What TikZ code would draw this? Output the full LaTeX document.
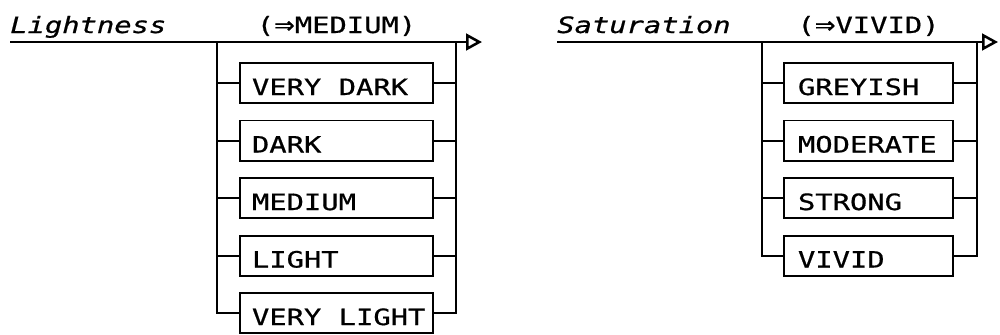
\documentclass[tikz,border=0pt]{standalone}
\usepackage{fontspec}
\newfontfamily\railfont[FakeStretch=1.28, FakeBold=0.7]{DejaVu Sans Mono}
\newfontfamily\railarrow[FakeStretch=1.1, FakeBold=0.7]{DejaVu Sans}
\newcommand\railsp{\nobreak\hspace{0.435cm}}
\usetikzlibrary{arrows.meta, positioning}

\begin{document}
\begin{tikzpicture}[
    x=0.025cm, y=-0.025cm,
    node distance=0.4375cm,
    every node/.style={font=\railfont\fontsize{16pt}{18pt}\selectfont},
    heading/.style={anchor=base west, inner sep=0pt, font=\railfont\itshape\fontsize{16pt}{18pt}\selectfont},
    defval/.style={anchor=base, inner sep=0pt},
    choice/.style={rectangle, draw, line width=1.4pt, outer sep=0pt, minimum height=1cm, align=left, text height=0.6cm, text depth=0pt},
    lbox/.style={choice, text width=4.225cm, inner xsep=0.3cm},
    rbox/.style={choice, text width=3.525cm, inner xsep=0.35cm},
    rail/.style={line width=1.4pt},
    arrow/.style={rail, -{Triangle[open, length=0.4cm, width=0.42cm, line width=1.8pt]}},
]
\useasboundingbox (0,0) rectangle (1000,335);

% Lightness
\coordinate (lstart) at (10,42);
\coordinate (lsplit) at (217,42);
\coordinate (ljoin) at (456,42);
\coordinate (lend) at (482,42);

\node[heading] (ltitle) at (10,33) {Lightness};
\node[defval] (ldef) at (336.5,33) {({\railarrow ⇒}MEDIUM)};

\node[lbox] (vdark) at (336.5,83) {VERY\railsp DARK};
\node[lbox, below=of vdark] (dark) {DARK};
\node[lbox, below=of dark] (medium) {MEDIUM};
\node[lbox, below=of medium] (light) {LIGHT};
\node[lbox, below=of light] (vlight) {VERY\railsp LIGHT};

\draw[arrow] (lstart) -- (lend);
\draw[rail] (lsplit) |- (vlight.west);
\draw[rail] (ljoin) |- (vlight.east);
\draw[rail] (lsplit |- vdark.west) -- (vdark.west);
\draw[rail] (lsplit |- dark.west) -- (dark.west);
\draw[rail] (lsplit |- medium.west) -- (medium.west);
\draw[rail] (lsplit |- light.west) -- (light.west);
\draw[rail] (vdark.east) -- (ljoin |- vdark.east);
\draw[rail] (dark.east) -- (ljoin |- dark.east);
\draw[rail] (medium.east) -- (ljoin |- medium.east);
\draw[rail] (light.east) -- (ljoin |- light.east);

% Saturation
\coordinate (sstart) at (557,42);
\coordinate (ssplit) at (762,42);
\coordinate (sjoin) at (977,42);
\coordinate (send) at (998,42);

\node[heading] (stitle) at (557,33) {Saturation};
\node[defval] (sdef) at (868.5,33) {({\railarrow ⇒}VIVID)};

\node[rbox] (greyish) at (868.5,83) {GREYISH};
\node[rbox, below=of greyish] (moderate) {MODERATE};
\node[rbox, below=of moderate] (strong) {STRONG};
\node[rbox, below=of strong] (vivid) {VIVID};

\draw[arrow] (sstart) -- (send);
\draw[rail] (ssplit) |- (vivid.west);
\draw[rail] (sjoin) |- (vivid.east);
\draw[rail] (ssplit |- greyish.west) -- (greyish.west);
\draw[rail] (ssplit |- moderate.west) -- (moderate.west);
\draw[rail] (ssplit |- strong.west) -- (strong.west);
\draw[rail] (greyish.east) -- (sjoin |- greyish.east);
\draw[rail] (moderate.east) -- (sjoin |- moderate.east);
\draw[rail] (strong.east) -- (sjoin |- strong.east);
\end{tikzpicture}
\end{document}
